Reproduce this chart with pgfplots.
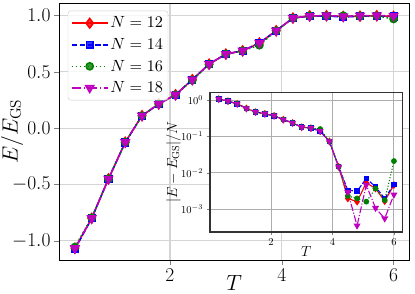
\RequirePackage{fix-cm}
\documentclass[border=0pt]{standalone}
\usepackage{graphicx}
\usepackage{pgfplots}
\pgfplotsset{compat=1.18}
\usetikzlibrary{plotmarks}
\definecolor{mred}{rgb}{1,0,0}
\definecolor{mblue}{rgb}{0,0,1}
\definecolor{mgreen}{rgb}{0,0.5,0}
\definecolor{mmag}{rgb}{0.75,0,0.75}
\newcommand{\lent}[1]{\scalebox{1.62}{$#1$}}
\pgfplotsset{
  s12/.style={color=mred, solid, line width=1.5pt, mark=diamond*, mark size=4.8pt, mark options={solid}},
  s14/.style={color=mblue, line width=1.5pt, dash pattern=on 5.5pt off 2.4pt, mark=square*, mark size=3.3pt, mark options={solid}},
  s16/.style={color=mgreen, line width=1.5pt, dash pattern=on 1.5pt off 2.5pt, mark=*, mark size=3.6pt, mark options={solid}},
  s18/.style={color=mmag, line width=1.5pt, dash pattern=on 9.6pt off 2.4pt on 1.5pt off 2.4pt, mark=triangle*, mark size=4.6pt, mark options={solid, rotate=180}},
}
\begin{document}
\begin{tikzpicture}
\path[use as bounding box] (0,0) rectangle (415pt,294pt);
\begin{axis}[
  at={(59pt,34pt)}, anchor=south west,
  width=350.5pt, height=257pt, scale only axis,
  xmin=0.015, xmax=6.285, ymin=-1.17, ymax=1.11,
  xtick={2,4,6}, ytick={-1,-0.5,0,0.5,1},
  yticklabel style={/pgf/number format/fixed, /pgf/number format/fixed zerofill, /pgf/number format/precision=1},
  tick label style={font=\fontsize{19.5}{22}\selectfont},
  tick align=outside, xtick pos=left, ytick pos=left,
  major tick length=5pt,
  grid=major, grid style={color=black!17, line width=1.2pt},
  axis line style={line width=0.9pt},
  xlabel={$T$}, ylabel={$E/E_{\mathrm{GS}}$},
  label style={font=\fontsize{22}{26}\selectfont},
  xlabel style={at={(axis description cs:0.5,-0.09)}, anchor=center},
  ylabel style={at={(axis description cs:-0.134,0.5)}, anchor=center, rotate=0},
  legend style={at={(0.025,0.97)}, anchor=north west, draw=black!20, rounded corners=3pt,
    fill=white, fill opacity=0.8, text opacity=1, draw opacity=1,
    row sep=5pt, inner xsep=3pt, inner ysep=4pt},
  legend cell align=left,
  legend image code/.code={\draw[mark repeat=2,mark phase=2] plot coordinates {(0pt,0pt) (18pt,0pt) (36pt,0pt)};},
]
\addplot[s12] coordinates {(0.3,-1.066) (0.6,-0.80) (0.9,-0.45) (1.2,-0.125) (1.5,0.11) (1.8,0.215) (2.1,0.296) (2.4,0.43) (2.7,0.568) (3.0,0.657) (3.3,0.686) (3.6,0.755) (3.9,0.864) (4.2,0.977) (4.5,0.996) (4.8,0.997) (5.1,0.99) (5.4,0.993) (5.7,0.997) (6.0,0.991)};
\addlegendentry{\lent{N=12}}
\addplot[s14] coordinates {(0.3,-1.075) (0.6,-0.80) (0.9,-0.45) (1.2,-0.128) (1.5,0.11) (1.8,0.215) (2.1,0.296) (2.4,0.43) (2.7,0.568) (3.0,0.657) (3.3,0.686) (3.6,0.755) (3.9,0.864) (4.2,0.977) (4.5,0.993) (4.8,0.994) (5.1,0.986) (5.4,0.992) (5.7,0.996) (6.0,0.990)};
\addlegendentry{\lent{N=14}}
\addplot[s16] coordinates {(0.3,-1.055) (0.6,-0.795) (0.9,-0.45) (1.2,-0.125) (1.5,0.11) (1.8,0.215) (2.1,0.296) (2.4,0.425) (2.7,0.565) (3.0,0.657) (3.3,0.686) (3.6,0.735) (3.9,0.864) (4.2,0.975) (4.5,0.995) (4.8,0.996) (5.1,0.997) (5.4,0.993) (5.7,0.996) (6.0,0.968)};
\addlegendentry{\lent{N=16}}
\addplot[s18] coordinates {(0.3,-1.066) (0.6,-0.80) (0.9,-0.45) (1.2,-0.125) (1.5,0.11) (1.8,0.215) (2.1,0.296) (2.4,0.43) (2.7,0.568) (3.0,0.657) (3.3,0.686) (3.6,0.755) (3.9,0.864) (4.2,0.977) (4.5,0.994) (4.8,0.999) (5.1,0.991) (5.4,0.998) (5.7,0.999) (6.0,0.995)};
\addlegendentry{\lent{N=18}}
\end{axis}
\begin{axis}[
  at={(210pt,62pt)}, anchor=south west,
  width=192.7pt, height=139.3pt, scale only axis,
  axis background/.style={fill=white},
  ymode=log,
  xmin=0.015, xmax=6.285, ymin=2.34e-4, ymax=1.6,
  xtick={2,4,6}, ytick={1,0.1,0.01,0.001},
  tick label style={font=\fontsize{10.5}{12}\selectfont},
  tick align=outside, xtick pos=left, ytick pos=left,
  major tick length=3.5pt, minor tick length=2pt,
  grid=major, grid style={color=black!32, line width=0.9pt},
  axis line style={line width=1.1pt, color=black!80},
  xlabel={$T$}, ylabel={$|E-E_{\mathrm{GS}}|/N$},
  label style={font=\fontsize{14.5}{17}\selectfont},
  xlabel style={at={(axis description cs:0.5,-0.137)}, anchor=center},
  ylabel style={at={(axis description cs:-0.19,0.5)}, anchor=center},
  s12/.append style={line width=1.1pt, mark size=3.0pt},
  s14/.append style={line width=1.1pt, mark size=2.2pt, dash pattern=on 4pt off 1.8pt},
  s16/.append style={line width=1.1pt, mark size=2.3pt, dash pattern=on 1.1pt off 1.8pt},
  s18/.append style={line width=1.1pt, mark size=3.0pt, dash pattern=on 7pt off 1.8pt on 1.1pt off 1.8pt},
]
\addplot[s12] coordinates {(0.3,1.07) (0.6,0.94) (0.9,0.79) (1.2,0.59) (1.5,0.47) (1.8,0.42) (2.1,0.37) (2.4,0.29) (2.7,0.236) (3.0,0.18) (3.3,0.17) (3.6,0.14) (3.9,0.073) (4.2,0.0147) (4.5,0.00196) (4.8,0.0016) (5.1,0.0053) (5.4,0.0037) (5.7,0.00165) (6.0,0.0046)};
\addplot[s14] coordinates {(0.3,1.07) (0.6,0.94) (0.9,0.79) (1.2,0.59) (1.5,0.47) (1.8,0.42) (2.1,0.37) (2.4,0.29) (2.7,0.236) (3.0,0.18) (3.3,0.17) (3.6,0.14) (3.9,0.073) (4.2,0.0147) (4.5,0.0033) (4.8,0.0031) (5.1,0.0070) (5.4,0.0041) (5.7,0.00196) (6.0,0.0048)};
\addplot[s16] coordinates {(0.3,1.07) (0.6,0.94) (0.9,0.79) (1.2,0.59) (1.5,0.47) (1.8,0.42) (2.1,0.37) (2.4,0.29) (2.7,0.236) (3.0,0.18) (3.3,0.17) (3.6,0.16) (3.9,0.073) (4.2,0.0147) (4.5,0.0023) (4.8,0.00196) (5.1,0.0016) (5.4,0.0037) (5.7,0.00177) (6.0,0.021)};
\addplot[s18] coordinates {(0.3,1.07) (0.6,0.94) (0.9,0.79) (1.2,0.59) (1.5,0.47) (1.8,0.42) (2.1,0.37) (2.4,0.29) (2.7,0.236) (3.0,0.18) (3.3,0.17) (3.6,0.14) (3.9,0.073) (4.2,0.0147) (4.5,0.0029) (4.8,0.00035) (5.1,0.0046) (5.4,0.00107) (5.7,0.00055) (6.0,0.0025)};
\end{axis}
\end{tikzpicture}
\end{document}
